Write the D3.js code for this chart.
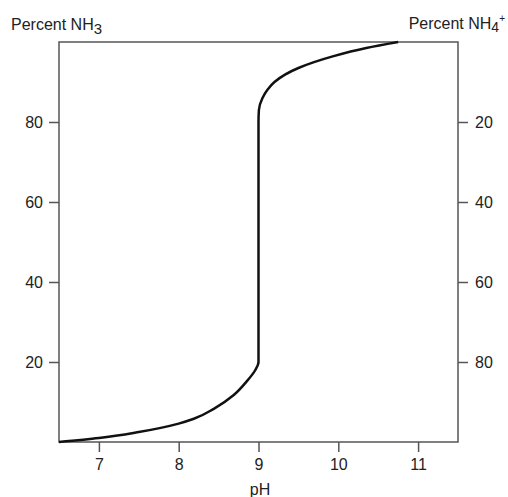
<!DOCTYPE html>
<html>
<head>
<meta charset="utf-8">
<script src="https://cdn.jsdelivr.net/npm/d3@7"></script>
<style>
  html, body { margin: 0; padding: 0; background: #fff; }
  svg { display: block; font-family: "Liberation Sans", Arial, Helvetica, sans-serif; }
</style>
</head>
<body>
<svg id="chart" width="508" height="497"></svg>
<script>
// Data
const pHValues   = [6.5, 7.0, 7.5, 8.0, 8.19, 8.44, 8.69, 8.85, 8.96, 9.0, 9.0, 9.005, 9.05, 9.11, 9.2, 9.5, 9.93, 10.35, 10.75];
const percentNH3 = [0,   1.0, 2.5, 4.6, 5.8,  8.3,  11.75, 15.1, 18,  20,  80,  83,    86,   88,   90,  93.5, 96.4, 98.5, 100];
const xTicks = [7, 8, 9, 10, 11];
const leftTicks = [20, 40, 60, 80];
const rightTicks = [20, 40, 60, 80];

const svg = d3.select("#chart");
const x = d3.scaleLinear().domain([6.5, 11.5]).range([59, 458]);
const y = d3.scaleLinear().domain([0, 100]).range([442, 42]);
const yR = d3.scaleLinear().domain([0, 100]).range([42, 442]);

const axisColor = "#555";
const textColor = "#222";
const fs = "16px";

function styleAxis(g) {
  g.select(".domain").remove();
  g.selectAll(".tick line").attr("stroke", axisColor).attr("stroke-width", 1.5);
  g.selectAll(".tick text").attr("fill", textColor).style("font-size", fs);
}

svg.append("g")
  .attr("transform", `translate(0,${y(0)})`)
  .call(d3.axisBottom(x).tickValues(xTicks).tickSize(10).tickPadding(7).tickFormat(d3.format("d")))
  .call(styleAxis);

svg.append("g")
  .attr("transform", `translate(${x(6.5)},0)`)
  .call(d3.axisLeft(y).tickValues(leftTicks).tickSize(10).tickPadding(6))
  .call(styleAxis);

svg.append("g")
  .attr("transform", `translate(${x(11.5)},0)`)
  .call(d3.axisRight(yR).tickValues(rightTicks).tickSize(10).tickPadding(7))
  .call(styleAxis);

// Plot box
svg.append("rect")
  .attr("x", x(6.5)).attr("y", y(100))
  .attr("width", x(11.5) - x(6.5)).attr("height", y(0) - y(100))
  .attr("fill", "none").attr("stroke", axisColor).attr("stroke-width", 1.5);

// Curve
const pts = pHValues.map((p, i) => [p, percentNH3[i]]);
const line = d3.line()
  .x(d => x(d[0])).y(d => y(d[1]))
  .curve(d3.curveMonotoneY);
svg.append("path")
  .datum(pts)
  .attr("d", line)
  .attr("fill", "none")
  .attr("stroke", "#111")
  .attr("stroke-width", 2.5);

// Titles
const tl = svg.append("text").attr("x", 11).attr("y", 30)
  .attr("fill", textColor).style("font-size", fs);
tl.append("tspan").text("Percent NH");
tl.append("tspan").attr("dy", 4).style("font-size", "15px").text("3");

const tr = svg.append("text").attr("x", 505).attr("y", 29).attr("text-anchor", "end")
  .attr("fill", textColor).style("font-size", fs);
tr.append("tspan").text("Percent NH");
tr.append("tspan").attr("dy", 3).style("font-size", "14px").text("4");
tr.append("tspan").attr("dy", -10).style("font-size", "10px").text("+");

svg.append("text").attr("x", 260).attr("y", 495).attr("text-anchor", "middle")
  .attr("fill", textColor).style("font-size", fs).text("pH");
</script>
</body>
</html>
